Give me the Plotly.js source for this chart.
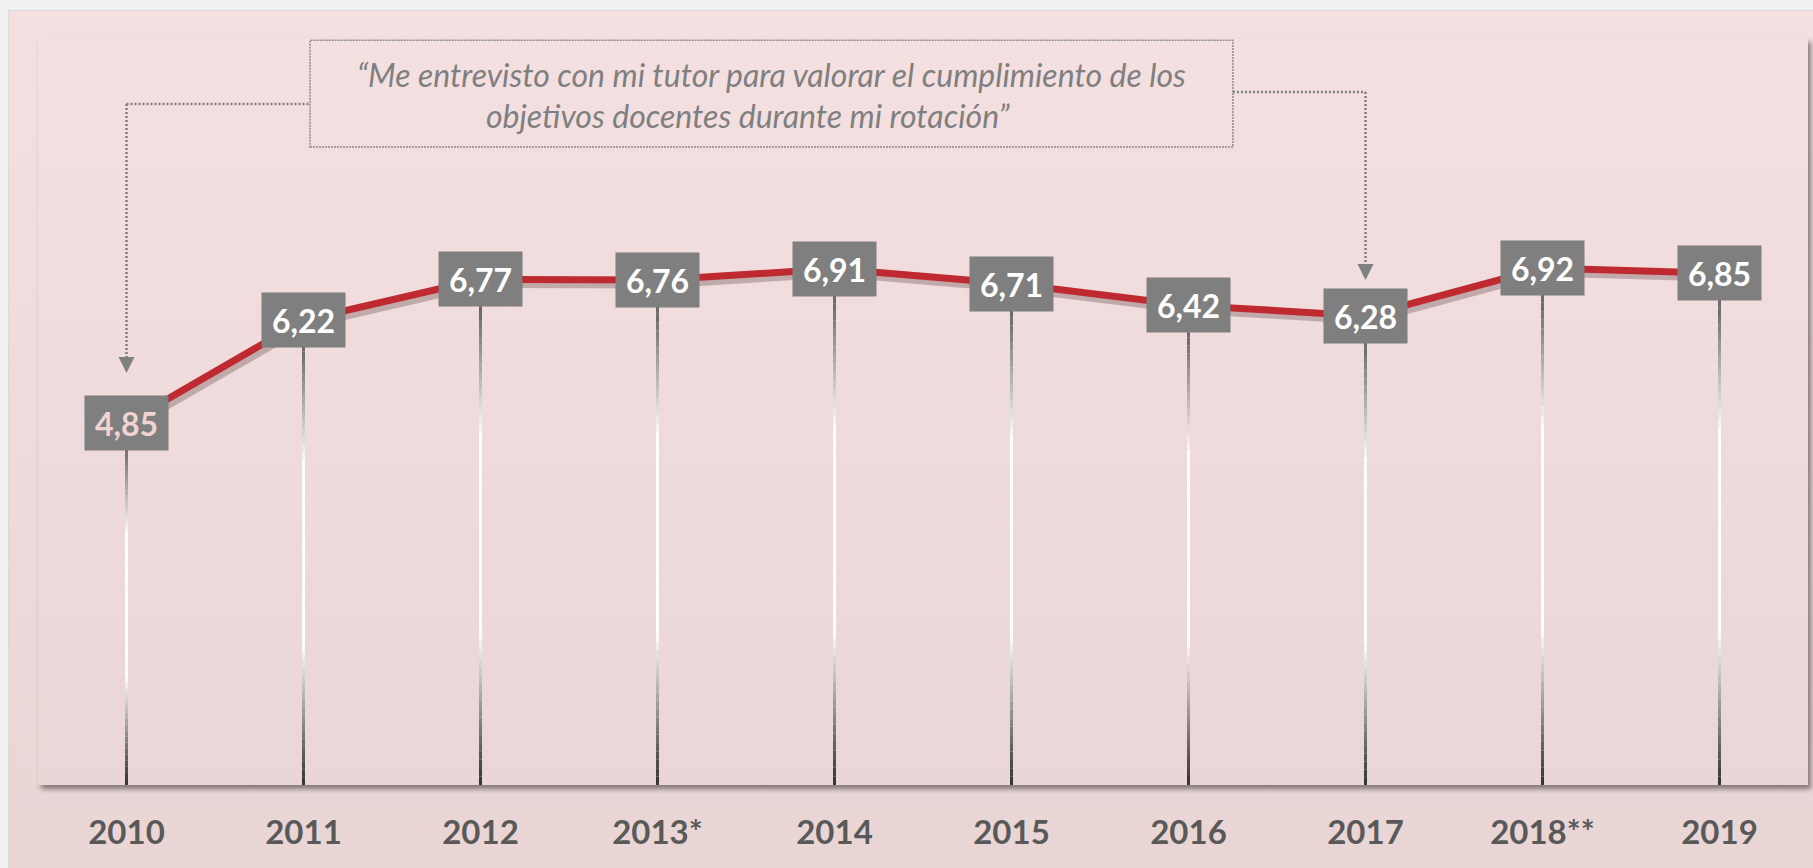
<!DOCTYPE html>
<html>
<head>
<meta charset="utf-8">
<script src="https://cdn.plot.ly/plotly-3.0.1.min.js"></script>
<style>
  html, body { margin:0; padding:0; width:1813px; height:868px; overflow:hidden; background:#f1f1f1; }
  #panel { position:absolute; left:8px; top:10px; width:1805px; height:858px;
           background:linear-gradient(#f4e0e1, #ead5d5); border-top:1px solid #dadada; border-left:1px solid #dadada; }
  #plotbg { position:absolute; left:38px; top:38px; width:1770px; height:747px;
            background:linear-gradient(#f4e0e1, #ead6d6); box-shadow:3px 4px 5px rgba(0,0,0,0.45); }
  #chart { position:absolute; left:0; top:0; width:1813px; height:868px; }
</style>
</head>
<body>
<div id="panel"></div>
<div id="plotbg"></div>
<div id="chart"></div>
<script>
// ---- data ----
const categories = ['2010', '2011', '2012', '2013*', '2014', '2015', '2016', '2017', '2018**', '2019'];
const values = [4.85, 6.22, 6.77, 6.76, 6.91, 6.71, 6.42, 6.28, 6.92, 6.85];
const valueLabels = ['4,85', '6,22', '6,77', '6,76', '6,91', '6,71', '6,42', '6,28', '6,92', '6,85'];
const quoteLine1 = '“Me entrevisto con mi tutor para valorar el cumplimiento de los';
const quoteLine2 = 'objetivos docentes durante mi rotación”';

// ---- drop lines with vertical gradient (dark - white - dark) ----
const stops = [[0, 50], [0.08, 100], [0.2, 185], [0.3, 255], [0.69, 255], [0.8, 185], [0.925, 110], [1, 95]];
function greyAt(t) {
  for (let i = 1; i < stops.length; i++) {
    if (t <= stops[i][0]) {
      const a = stops[i - 1], b = stops[i];
      const g = Math.round(a[1] + (b[1] - a[1]) * (t - a[0]) / (b[0] - a[0]));
      return 'rgb(' + g + ',' + g + ',' + g + ')';
    }
  }
  return 'rgb(95,95,95)';
}
const N = 60;
const traces = [];
for (let k = 0; k < N; k++) {
  const xs = [], ys = [];
  categories.forEach((c, i) => {
    xs.push(c, c, null);
    ys.push(values[i] * k / N, values[i] * (k + 1) / N, null);
  });
  traces.push({
    x: xs, y: ys, type: 'scatter', mode: 'lines', xaxis: 'x', yaxis: 'y',
    line: { color: greyAt((k + 0.5) / N), width: 3 },
    hoverinfo: 'skip', showlegend: false
  });
}
// shadow of the main line (on a slightly shifted overlay axis pair)
traces.push({
  x: categories, y: values, type: 'scatter', mode: 'lines', xaxis: 'x2', yaxis: 'y2',
  line: { color: 'rgba(70,40,40,0.28)', width: 9 }, hoverinfo: 'skip', showlegend: false
});
// main red line
traces.push({
  x: categories, y: values, type: 'scatter', mode: 'lines', xaxis: 'x3', yaxis: 'y3',
  line: { color: '#bf2a30', width: 7 }, hoverinfo: 'skip', showlegend: false
});

// ---- value label boxes (x given as category index) ----
const annotations = categories.map((c, i) => ({
  x: i, y: values[i], xref: 'x', yref: 'y', text: valueLabels[i], showarrow: false,
  xanchor: 'center', yanchor: 'middle',
  bgcolor: '#7f7f7f', width: 69, height: 40, borderpad: 7,
  font: { family: 'Lato', size: 32, color: i === 0 ? '#f2d2d2' : '#ffffff', weight: 'bold' }
}));
annotations.push({
  x: 0.4144, y: 0.951, xref: 'paper', yref: 'paper', text: quoteLine1, showarrow: false,
  xanchor: 'center', yanchor: 'middle',
  font: { family: 'Lato', size: 32, color: '#7f7f7f', style: 'italic' }
});
annotations.push({
  x: 0.401, y: 0.8956, xref: 'paper', yref: 'paper', text: quoteLine2, showarrow: false,
  xanchor: 'center', yanchor: 'middle',
  font: { family: 'Lato', size: 32, color: '#7f7f7f', style: 'italic' }
});

// ---- quote box & dotted connectors ----
const dot = { color: '#808080', width: 2.5, dash: '2px,2px' };
const shapes = [
  { type: 'rect', xref: 'paper', yref: 'paper', x0: 0.1537, x1: 0.6751, y0: 0.854, y1: 0.997,
    line: { color: '#8a8a8a', width: 1.5, dash: '2px,1px' } },
  // left connector to 2010
  { type: 'line', xref: 'x', yref: 'paper', x0: 0, x1: 1.037, y0: 0.9116, y1: 0.9116, line: dot },
  { type: 'line', xref: 'x', yref: 'paper', x0: 0, x1: 0, y0: 0.9116, y1: 0.5716, line: dot },
  { type: 'path', xref: 'x', yref: 'paper', xsizemode: 'pixel', ysizemode: 'pixel',
    xanchor: 0, yanchor: 0.5515, path: 'M -8 16 L 8 16 L 0 0 Z',
    fillcolor: '#808080', line: { width: 0 } },
  // right connector to 2017
  { type: 'line', xref: 'x', yref: 'paper', x0: 6.251, x1: 7, y0: 0.9277, y1: 0.9277, line: dot },
  { type: 'line', xref: 'x', yref: 'paper', x0: 7, x1: 7, y0: 0.9277, y1: 0.696, line: dot },
  { type: 'path', xref: 'x', yref: 'paper', xsizemode: 'pixel', ysizemode: 'pixel',
    xanchor: 7, yanchor: 0.676, path: 'M -8 16 L 8 16 L 0 0 Z',
    fillcolor: '#808080', line: { width: 0 } }
];

const xr = [-0.5, 9.5], yr = [0, 10];
const dx = 3 / 177, dy = 4 / 74.7;
const layout = {
  width: 1813, height: 868,
  margin: { l: 38, r: 5, t: 38, b: 83, pad: 0 },
  paper_bgcolor: 'rgba(0,0,0,0)', plot_bgcolor: 'rgba(0,0,0,0)',
  showlegend: false,
  xaxis: {
    type: 'category', categoryarray: categories, range: xr, fixedrange: true,
    showgrid: false, zeroline: false, showline: false,
    ticks: 'outside', ticklen: 18, tickcolor: 'rgba(0,0,0,0)',
    tickfont: { family: 'Lato', size: 33, color: '#595959', weight: 'bold' }
  },
  yaxis: { range: yr, visible: false, fixedrange: true, showgrid: false, zeroline: false },
  xaxis2: { type: 'category', categoryarray: categories, overlaying: 'x', range: [xr[0] - dx, xr[1] - dx], visible: false, fixedrange: true },
  yaxis2: { overlaying: 'y', range: [yr[0] + dy, yr[1] + dy], visible: false, fixedrange: true },
  xaxis3: { type: 'category', categoryarray: categories, overlaying: 'x', range: xr, visible: false, fixedrange: true },
  yaxis3: { overlaying: 'y', range: yr, visible: false, fixedrange: true },
  annotations: annotations,
  shapes: shapes
};

Plotly.newPlot('chart', traces, layout, { displayModeBar: false, staticPlot: true });
</script>
</body>
</html>
